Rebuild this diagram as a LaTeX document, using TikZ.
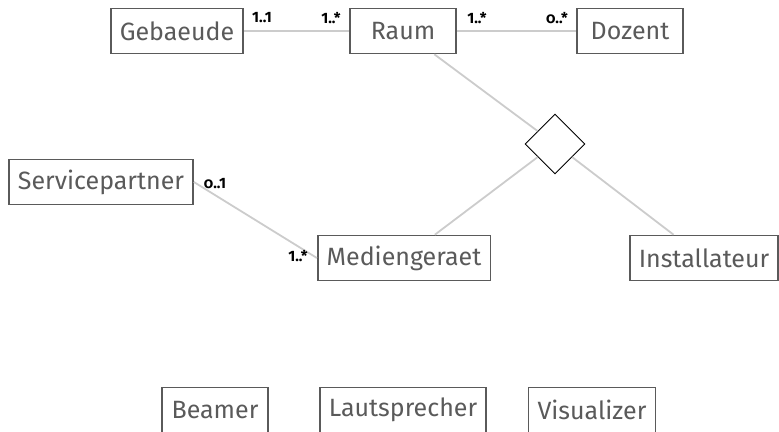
\documentclass[tikz,border=0pt]{standalone}
\usepackage{fontspec}
\setmainfont{Fira Sans}
\usepackage{tikz}
\usetikzlibrary{shapes,positioning}

\definecolor{boxgray}{HTML}{5A5A5A}
\definecolor{linegray}{HTML}{CCCCCC}

\begin{document}
\begin{tikzpicture}[
    x=1pt, y=-1pt,
    entity/.style={rectangle, draw=boxgray, line width=1.6pt, fill=white, text=boxgray, minimum height=45pt, minimum width=106pt, inner xsep=9pt, font=\fontsize{25}{28}\selectfont},
    relship/.style={diamond, draw=black, line width=0.9pt, fill=white, minimum width=60pt, minimum height=60pt, inner sep=0pt},
    assoc/.style={draw=linegray, line width=1.8pt},
    mult/.style={inner sep=0pt, text=black, font=\fontsize{15}{17}\selectfont\bfseries}
]

\clip (0,0) rectangle (779,431);

% Entities
\node[entity] (geb) at (177, 31) {Gebaeude};
\node[entity] (raum) at (403, 31) {Raum};
\node[entity] (doz) at (630, 31) {Dozent};
\node[entity] (serv) at (101, 182) {Servicepartner};
\node[entity] (med) at (404, 258) {Mediengeraet};
\node[entity] (inst) at (704, 258) {Installateur};

% Relationship
\node[relship] (rel) at (555, 144) {};

% Subtypes (bottom)
\node[entity] (beam) at (215, 410) {Beamer};
\node[entity] (laut) at (403, 410) {Lautsprecher};
\node[entity] (vis) at (592, 410) {Visualizer};

% Associations
\draw[assoc] (geb) -- (raum);
\draw[assoc] (raum) -- (doz);
\draw[assoc] (serv.east) -- (med.west);

% Relationship lines
\draw[assoc] (raum) -- (rel);
\draw[assoc] (med) -- (rel);
\draw[assoc] (inst) -- (rel);

% Multiplicities
\node[mult] (m1) at (262, 18) {1..1};
\node[mult] (m2) at (331, 18) {1..*};
\node[mult] (m3) at (477, 18) {1..*};
\node[mult] (m4) at (557, 18) {{\addfontfeature{Numbers=OldStyle}0}..*};
\node[mult] (m5) at (215, 184) {{\addfontfeature{Numbers=OldStyle}0}..1};
\node[mult] (m6) at (298, 256) {1..*};

\end{tikzpicture}
\end{document}
